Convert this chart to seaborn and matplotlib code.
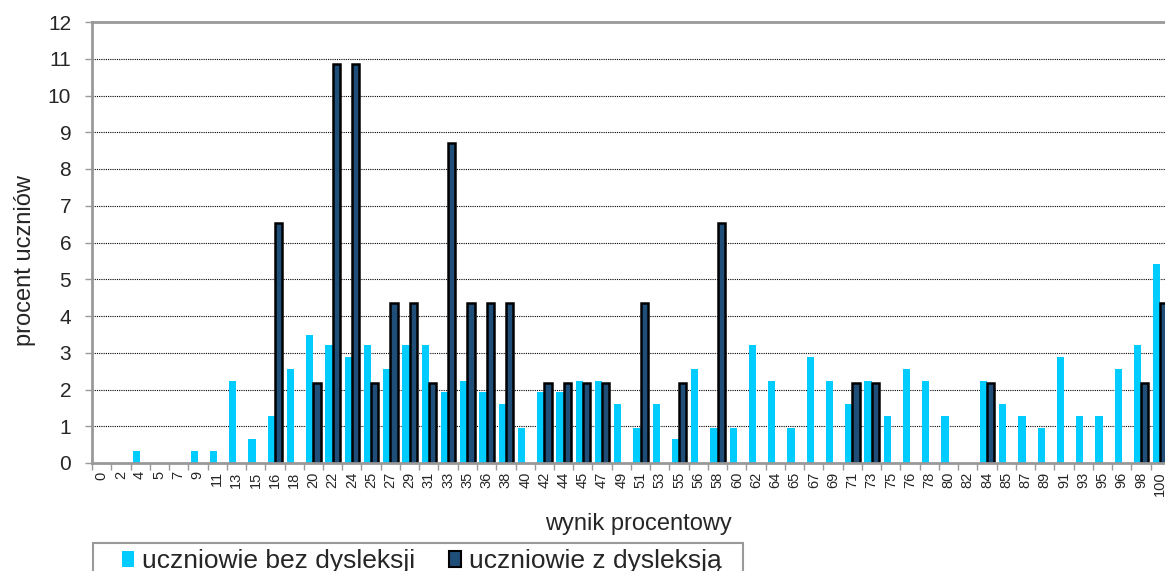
import seaborn as sns
import matplotlib.pyplot as plt
import pandas as pd

# kategorie - wynik procentowy
wyniki = ['0', '2', '4', '5', '7', '9', '11', '13', '15', '16', '18', '20', '22', '24',
          '25', '27', '29', '31', '33', '35', '36', '38', '40', '42', '44', '45', '47', '49',
          '51', '53', '55', '56', '58', '60', '62', '64', '65', '67', '69', '71', '73', '75',
          '76', '78', '80', '82', '84', '85', '87', '89', '91', '93', '95', '96', '98', '100']

bez_dysleksji = [0, 0, 0.32, 0, 0, 0.32, 0.32, 2.24, 0.64, 1.28, 2.56, 3.49, 3.2, 2.88,
                 3.2, 2.56, 3.2, 3.2, 1.92, 2.24, 1.92, 1.6, 0.96, 1.92, 1.92, 2.24, 2.24, 1.6,
                 0.96, 1.6, 0.64, 2.56, 0.96, 0.96, 3.2, 2.24, 0.96, 2.88, 2.24, 1.6, 2.24, 1.28,
                 2.56, 2.24, 1.28, 0, 2.24, 1.6, 1.28, 0.96, 2.88, 1.28, 1.28, 2.56, 3.2, 5.41]

z_dysleksja = [0, 0, 0, 0, 0, 0, 0, 0, 0, 6.52, 0, 2.17, 10.87, 10.87,
               2.17, 4.35, 4.35, 2.17, 8.7, 4.35, 4.35, 4.35, 0, 2.17, 2.17, 2.17, 2.17, 0,
               4.35, 0, 2.17, 0, 6.52, 0, 0, 0, 0, 0, 0, 2.17, 2.17, 0,
               0, 0, 0, 0, 2.17, 0, 0, 0, 0, 0, 0, 0, 2.17, 4.35]

grupy = ['uczniowie bez dysleksji', 'uczniowie z dysleksją']
kolory = ['#00CCFF', '#1F4E79']

df = pd.DataFrame({
    'wynik': wyniki * 2,
    'procent': bez_dysleksji + z_dysleksja,
    'grupa': [grupy[0]] * len(wyniki) + [grupy[1]] * len(wyniki),
})

sns.set_style('white')
plt.rcParams['font.family'] = ['Liberation Sans', 'DejaVu Sans']

fig = plt.figure(figsize=(11.65, 5.71), dpi=100)
ax = fig.add_axes([92 / 1165, 108 / 571, (1170 - 92) / 1165, 441 / 571])

sns.barplot(data=df, x='wynik', y='procent', hue='grupa', order=wyniki,
            hue_order=grupy, palette=kolory, width=0.75, saturation=1,
            errorbar=None, ax=ax, legend=False)

for p in ax.containers[0]:
    p.set_edgecolor('none')
    if p.get_height() == 0:
        p.set_visible(False)
for p in ax.containers[1]:
    p.set_edgecolor('black')
    p.set_linewidth(1.8)
    if p.get_height() == 0:
        p.set_visible(False)

ax.set_ylim(0, 12)
ax.set_xlim(-0.5, len(wyniki) - 0.5)
ax.set_yticks(range(0, 13))
ax.tick_params(axis='y', labelsize=15, length=5, width=1, color='#999999',
               direction='out', pad=10, left=True)
ax.set_xticks(range(len(wyniki)), wyniki)
ax.tick_params(axis='x', labelsize=10.5, rotation=90, length=0, pad=6)
ax.set_xticks([i - 0.5 for i in range(len(wyniki) + 1)], minor=True)
ax.tick_params(axis='x', which='minor', length=5, color='#999999', width=1,
               direction='out', bottom=True)

for v in range(1, 12):
    ax.axhline(v, color='black', lw=0.8, ls=(0, (1, 1)), zorder=0)

for s in ['left', 'bottom', 'top']:
    ax.spines[s].set_color('#999999')
    ax.spines[s].set_linewidth(2)
ax.spines['right'].set_visible(False)

ax.set_xlabel('wynik procentowy', fontsize=17, va='center')
ax.xaxis.set_label_coords((638 - 92) / 1078, -(524 - 463) / 441)
ax.set_ylabel('procent uczniów', fontsize=17, va='center')
ax.yaxis.set_label_coords(-(92 - 25) / 1078, (463 - 261) / 441)

# ramka legendy
fig.patches.append(plt.Rectangle((93 / 1165, -0.05), (743 - 93) / 1165, 0.05 + 28 / 571,
                                 transform=fig.transFigure, facecolor='white',
                                 edgecolor='#999999', lw=1.5))

uchwyty = [plt.Rectangle((0, 0), 1, 1, facecolor=kolory[0], edgecolor='none'),
           plt.Rectangle((0, 0), 1, 1, facecolor=kolory[1], edgecolor='black', lw=1.5)]
fig.legend(uchwyty, grupy, loc='center left', bbox_to_anchor=(122 / 1165, 1 - 561 / 571),
           ncol=2, fontsize=19, frameon=False, handlelength=0.45, handleheight=0.55,
           handletextpad=0.3, columnspacing=1.3, borderpad=0, borderaxespad=0)

fig.savefig('out.png', dpi=100)
